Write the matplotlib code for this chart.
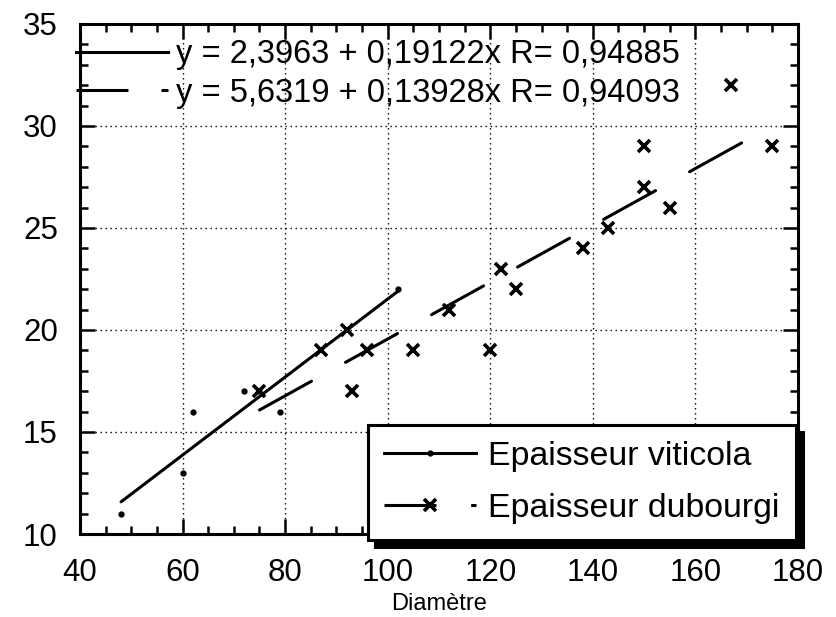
import matplotlib
matplotlib.use('Agg')
import matplotlib.pyplot as plt
from matplotlib.lines import Line2D
from matplotlib.ticker import MultipleLocator

# ---- data ----
vit_x = [48, 60, 62, 72, 75, 79, 102]
vit_y = [11, 13, 16, 17, 17, 16, 22]

dub_x = [75, 87, 92, 93, 96, 105, 112, 120, 122, 125, 138, 143, 150, 150, 155, 167, 175]
dub_y = [17, 19, 20, 17, 19, 19, 21, 19, 23, 22, 24, 25, 29, 27, 26, 32, 29]

# regression coefficients printed on the chart
vit_fit = [2.3963, 0.19122, 0.94885]
dub_fit = [5.6319, 0.13928, 0.94093]

series_labels = ["Epaisseur viticola", "Epaisseur dubourgi"]
x_label = "Diamètre"

plt.rcParams['font.family'] = ['Liberation Sans', 'DejaVu Sans']
plt.rcParams['lines.scale_dashes'] = False


def eq_label(fit):
    a, b, r = fit
    return ("y = %.4f + %.5fx R= %.5f" % (a, b, r)).replace('.', ',')


fig = plt.figure(figsize=(8.37, 6.17), dpi=100)
L, R, B, T = 80 / 837, 798 / 837, 1 - 534 / 617, 1 - 24 / 617
ax = fig.add_axes([L, B, R - L, T - B])
ax.set_xlim(40, 180)
ax.set_ylim(10, 35)
ax.xaxis.set_major_locator(MultipleLocator(20))
ax.xaxis.set_minor_locator(MultipleLocator(5))
ax.yaxis.set_major_locator(MultipleLocator(5))
ax.yaxis.set_minor_locator(MultipleLocator(1))
ax.grid(True, which='major', color='black', linestyle=(0, (1, 2.6)), linewidth=1.0)
ax.tick_params(which='both', direction='in', top=True, right=True, width=1.8,
               labelsize=22.5, colors='black')
ax.tick_params(which='major', length=11)
ax.tick_params(which='minor', length=5.5)
ax.tick_params(axis='x', pad=17)
ax.tick_params(axis='y', pad=16)
for s in ax.spines.values():
    s.set_linewidth(2.2)
ax.set_axisbelow(True)

# regression lines
fxv = [min(vit_x), max(vit_x)]
ax.plot(fxv, [vit_fit[0] + vit_fit[1] * v for v in fxv], color='black', lw=2.2,
        solid_capstyle='round')
fxd = [min(dub_x), max(dub_x)]
ax.plot(fxd, [dub_fit[0] + dub_fit[1] * v for v in fxd], color='black', lw=2.2,
        dashes=(42.8, 28), dash_capstyle='round')

# points
ax.plot(vit_x, vit_y, linestyle='none', marker='o', ms=3.5, color='black')
ax.plot(dub_x, dub_y, linestyle='none', marker='x', ms=8, mew=2.6, color='black')

ax.set_xlabel(x_label, fontsize=17, labelpad=4)

# equation legend (top-left)
h1 = [Line2D([], [], color='black', lw=2.2),
      Line2D([], [], color='black', lw=2.2, dashes=(37.4, 23.8))]
leg1 = ax.legend(h1, [eq_label(vit_fit), eq_label(dub_fit)], loc='upper left',
                 bbox_to_anchor=(76 / 837, 1 - 39 / 617), bbox_transform=fig.transFigure,
                 frameon=False, fontsize=23.5, handlelength=2.82, handletextpad=0.25,
                 labelspacing=0.23, borderpad=0, borderaxespad=0)
ax.add_artist(leg1)

# series legend (bottom-right box)
h2 = [Line2D([], [], color='black', lw=2.2, marker='o', ms=3.5),
      Line2D([], [], color='black', lw=2.2, dashes=(37.4, 25), marker='x', ms=8, mew=2.6)]
leg2 = ax.legend(h2, series_labels, loc='upper left', numpoints=1,
                 bbox_to_anchor=(368 / 837, 1 - 425 / 617), bbox_transform=fig.transFigure,
                 fontsize=24.4, handlelength=2.71, handletextpad=0.35, labelspacing=0.6,
                 borderpad=0.48, borderaxespad=0, fancybox=False, edgecolor='black',
                 framealpha=1, shadow={'ox': 5, 'oy': -5, 'shade': 1.0, 'alpha': 1})
leg2.get_frame().set_linewidth(2.2)

fig.savefig('out.png', dpi=100)
